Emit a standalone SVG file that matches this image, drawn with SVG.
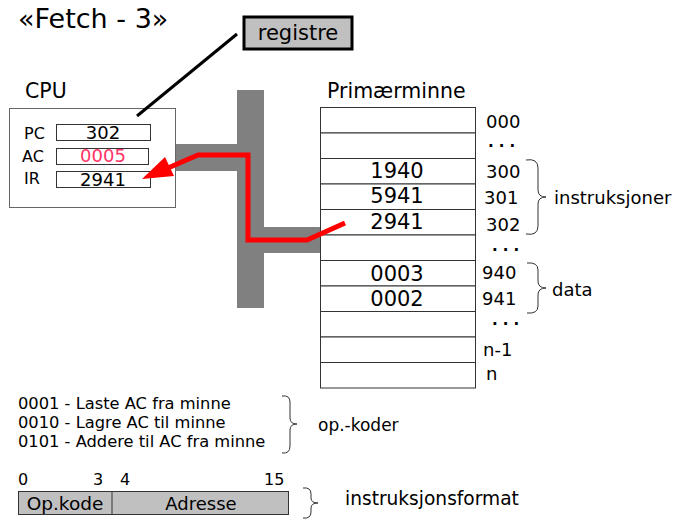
<svg xmlns="http://www.w3.org/2000/svg" width="678" height="520" viewBox="0 0 678 520">
  <style>
    text { font-family: "DejaVu Sans", "Liberation Sans", sans-serif; fill: #000; }
    .lbl { font-size: 20.5px; }
    .reg { font-size: 16px; }
    .val { font-size: 18px; text-anchor: middle; }
    .mval { font-size: 21px; text-anchor: middle; }
    .addr { font-size: 18px; }
    .dots { font-size: 15px; font-weight: bold; letter-spacing: 5px; }
    .small { font-size: 16.3px; }
    .cell { fill: #fff; stroke: #333; stroke-width: 1; }
    .regbox { fill: #fff; stroke: #333; stroke-width: 1; }
    .bus { fill: #808080; }
    .brace { fill: none; stroke: #333; stroke-width: 1; }
    .gray { fill: #c0c0c0; stroke: #333; stroke-width: 1; }
  </style>

  <!-- title -->
  <text x="18" y="28" style="font-size:27px">«Fetch - 3»</text>

  <!-- callout label -->
  <g id="registre">
    <rect x="244" y="17" width="108" height="32" fill="#c0c0c0" stroke="#000" stroke-width="3"/>
    <text x="298" y="40" text-anchor="middle" style="font-size:21px">registre</text>
  </g>

  <!-- system bus -->
  <g id="bus">
    <rect class="bus" x="237" y="90" width="27" height="218"/>
    <rect class="bus" x="176" y="144" width="62" height="27"/>
    <rect class="bus" x="263" y="227" width="58" height="26"/>
  </g>

  <!-- CPU -->
  <g id="cpu">
    <text x="25" y="98" class="lbl">CPU</text>
    <rect x="9.5" y="108.5" width="166" height="99" fill="#fff" stroke="#666" stroke-width="1"/>
    <text x="24" y="139" class="reg">PC</text>
    <text x="22" y="162" class="reg">AC</text>
    <text x="24" y="184" class="reg">IR</text>
    <rect class="regbox" x="56.5" y="124.5" width="94" height="16"/>
    <rect class="regbox" x="56.5" y="148.5" width="92" height="16"/>
    <rect class="regbox" x="56.5" y="171.5" width="94" height="16"/>
    <text x="103" y="139" class="val">302</text>
    <text x="103" y="162" class="val" style="fill:#ff3366">0005</text>
    <text x="103" y="186" class="val">2941</text>
  </g>

  <!-- main memory -->
  <g id="memory">
    <text x="327" y="98" class="lbl">Primærminne</text>
    <rect class="cell" x="320.5" y="107.5" width="155" height="25.5"/>
    <rect class="cell" x="320.5" y="133" width="155" height="25.5"/>
    <rect class="cell" x="320.5" y="158.5" width="155" height="25.5"/>
    <rect class="cell" x="320.5" y="184" width="155" height="25.5"/>
    <rect class="cell" x="320.5" y="209.5" width="155" height="25.5"/>
    <rect class="cell" x="320.5" y="235" width="155" height="25.5"/>
    <rect class="cell" x="320.5" y="260.5" width="155" height="25.5"/>
    <rect class="cell" x="320.5" y="286" width="155" height="25.5"/>
    <rect class="cell" x="320.5" y="311.5" width="155" height="25.5"/>
    <rect class="cell" x="320.5" y="337" width="155" height="25.5"/>
    <rect class="cell" x="320.5" y="362.5" width="155" height="25.5"/>
    <text x="397" y="178" class="mval">1940</text>
    <text x="397" y="203" class="mval">5941</text>
    <text x="397" y="229" class="mval">2941</text>
    <text x="397" y="281" class="mval">0003</text>
    <text x="397" y="306" class="mval">0002</text>
  </g>

  <!-- addresses -->
  <g id="addresses">
    <text x="488" y="147" class="dots">...</text>
    <text x="486" y="128" class="addr">000</text>
    <text x="486" y="178" class="addr">300</text>
    <text x="484" y="204" class="addr">301</text>
    <text x="486" y="231" class="addr">302</text>
    <text x="492" y="251" class="dots">...</text>
    <text x="482" y="279" class="addr">940</text>
    <text x="482" y="305" class="addr">941</text>
    <text x="492" y="325" class="dots">...</text>
    <text x="483" y="356" class="addr">n-1</text>
    <text x="486" y="380" class="addr">n</text>
  </g>

  <!-- annotations -->
  <g id="instruksjoner">
    <path class="brace" d="M526,160 Q538,158 538,168 L538,190 Q538,197 546,197 Q538,197 538,204 L538,226 Q538,236 526,234"/>
    <text x="554" y="204" class="addr">instruksjoner</text>
  </g>
  <g id="data">
    <path class="brace" d="M527,263 Q538,262 538,270 L538,281 Q538,288 546,288 Q538,288 538,295 L538,306 Q538,314 527,313"/>
    <text x="552" y="296" class="addr">data</text>
  </g>

  <!-- op codes -->
  <g id="opcodes">
    <text x="18" y="409" class="small">0001 - Laste AC fra minne</text>
    <text x="18" y="428" class="small">0010 - Lagre AC til minne</text>
    <text x="18" y="447" class="small">0101 - Addere til AC fra minne</text>
    <path class="brace" d="M282,396 Q290,395 290,402 L290,418 Q290,424 297,424 Q290,424 290,430 L290,446 Q290,454 282,453"/>
    <text x="318" y="431" style="font-size:17px">op.-koder</text>
  </g>

  <!-- instruction format -->
  <g id="format">
    <text x="18" y="485" class="reg">0</text>
    <text x="93" y="485" class="reg">3</text>
    <text x="120" y="485" class="reg">4</text>
    <text x="264" y="485" class="reg">15</text>
    <rect class="gray" x="18.5" y="491.5" width="270" height="23"/>
    <line x1="112" y1="491.5" x2="112" y2="514.5" stroke="#333" stroke-width="1"/>
    <text x="65" y="510" text-anchor="middle" style="font-size:18.5px">Op.kode</text>
    <text x="201" y="510" text-anchor="middle" style="font-size:18px">Adresse</text>
    <path class="brace" d="M303,488 Q311,487 311,494 L311,498 Q311,503 318,503 Q311,503 311,508 L311,512 Q311,519 303,518"/>
    <text x="345" y="505" style="font-size:18.6px">instruksjonsformat</text>
  </g>

  <!-- connectors -->
  <g id="connectors">
    <line x1="237" y1="34" x2="137" y2="116" stroke="#000" stroke-width="3"/>
    <polyline points="345,223 307,240 248,240 248,155 198,155 168,168" fill="none" stroke="#ff0000" stroke-width="5" stroke-linejoin="miter"/>
    <polygon points="142,179 165,157 174,176" fill="#ff0000"/>
  </g>
</svg>
